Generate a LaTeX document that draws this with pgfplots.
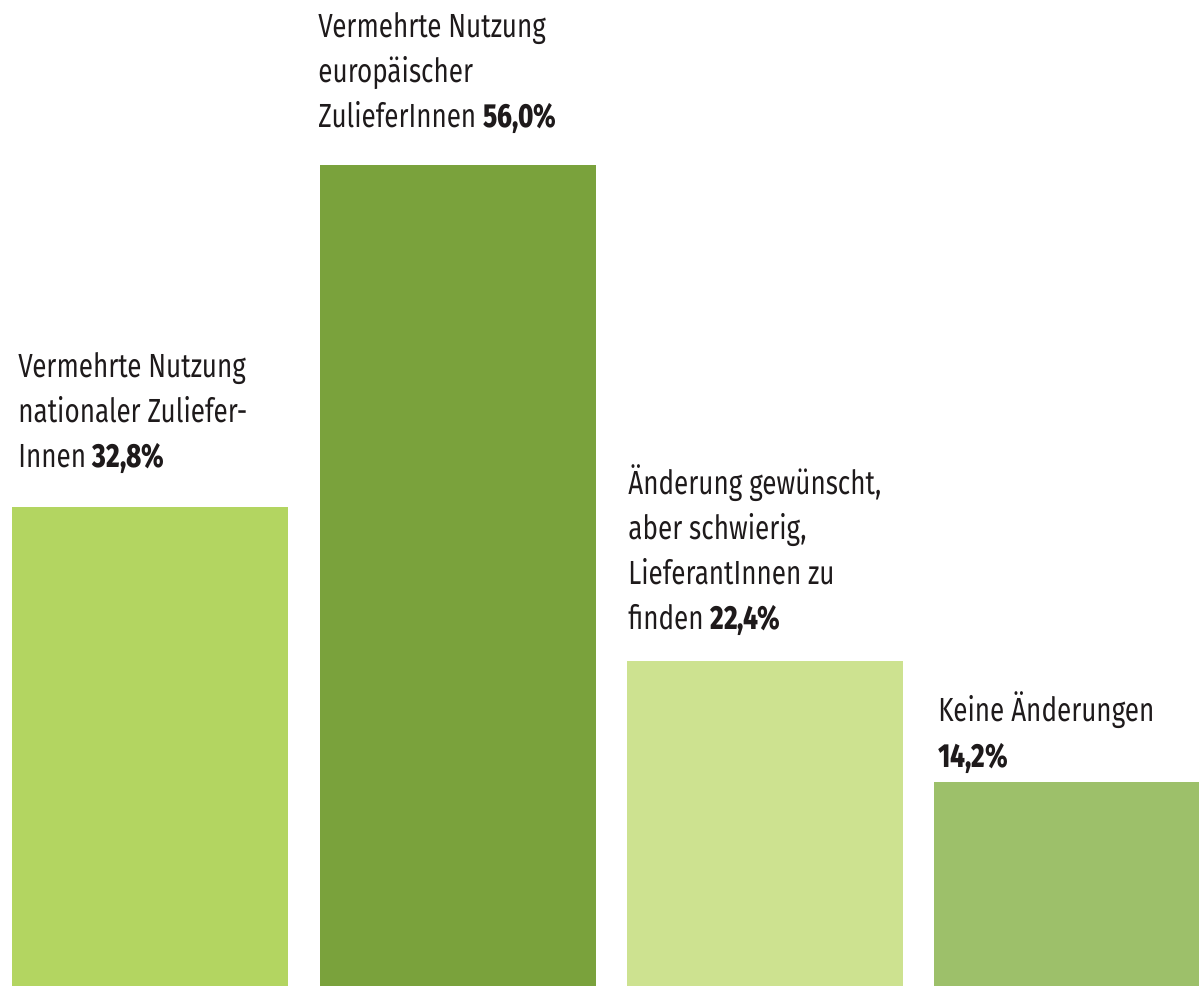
\documentclass[border=0pt]{standalone}
\usepackage{fontspec}
\setmainfont{Fira Sans}[FakeStretch=0.78, BoldFont={Fira Sans ExtraBold}]
\usepackage{pgfplots}
\pgfplotsset{compat=1.18}
\definecolor{gA}{HTML}{B3D561}
\definecolor{gB}{HTML}{7AA23C}
\definecolor{gC}{HTML}{CDE290}
\definecolor{gD}{HTML}{9DC06A}
\definecolor{txt}{HTML}{1E1A1B}
\begin{document}
\begin{tikzpicture}
\begin{axis}[
  scale only axis, width=599.5pt, height=493pt,
  xmin=0, xmax=1199, ymin=0.38, ymax=67.18,
  hide axis, ybar, bar width=138pt, bar shift=0pt,
]
\addplot[fill=gA, draw=none] coordinates {(150,32.8)};
\addplot[fill=gB, draw=none] coordinates {(457.5,56.0)};
\addplot[fill=gC, draw=none] coordinates {(764.5,22.4)};
\addplot[fill=gD, draw=none] coordinates {(1072,14.2)};
\path (rel axis cs:0,0) rectangle (rel axis cs:1,1);
\end{axis}
\begin{scope}[every node/.style={anchor=base west, inner sep=0pt, text=txt, font=\fontsize{16.7}{20}\selectfont}]
% pixel -> pt: x*0.5, (986-y)*0.5
\node at (9pt,{(986-378)*0.5pt}) {Vermehrte Nutzung};
\node at (9pt,{(986-423)*0.5pt}) {nationaler Zuliefer-};
\node at (9pt,{(986-468)*0.5pt}) {Innen \textbf{32,8\%}};
\node at (159pt,{(986-38)*0.5pt}) {Vermehrte Nutzung};
\node at (159pt,{(986-83)*0.5pt}) {europäischer};
\node at (159pt,{(986-128)*0.5pt}) {ZulieferInnen \textbf{56,0\%}};
\node at (314pt,{(986-495)*0.5pt}) {Änderung gewünscht,};
\node at (314pt,{(986-540)*0.5pt}) {aber schwierig,};
\node at (314pt,{(986-585)*0.5pt}) {LieferantInnen zu};
\node at (314pt,{(986-630)*0.5pt}) {finden \textbf{22,4\%}};
\node at (469pt,{(986-722)*0.5pt}) {Keine Änderungen};
\node at (469pt,{(986-767)*0.5pt}) {\textbf{14,2\%}};
\end{scope}
\end{tikzpicture}
\end{document}
